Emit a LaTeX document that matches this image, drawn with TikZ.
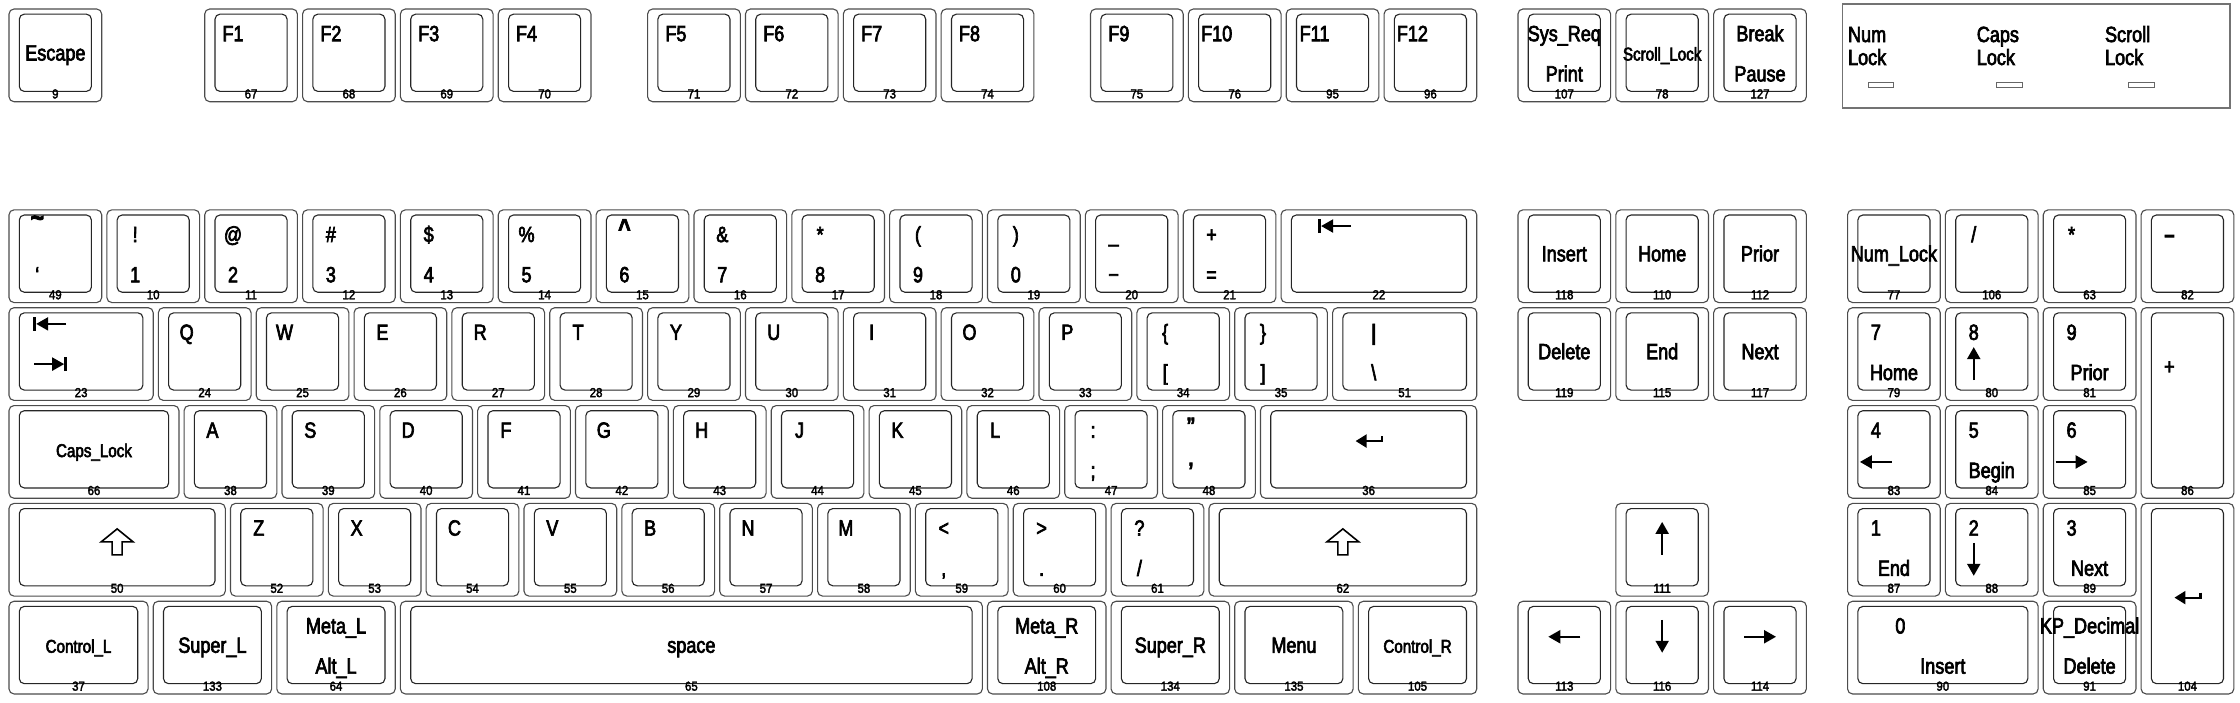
\documentclass[tikz,border=0pt]{standalone}
\usepackage{fontspec}
\setmainfont{Liberation Sans}[FakeStretch=0.82,FakeBold=3]
\newfontfamily\codefont{Liberation Sans}[FakeStretch=0.88,FakeBold=2.5]
\usetikzlibrary{calc,arrows.meta}
\def\kbu{5.15pt}
\tikzset{
  kout/.style={rectangle, draw=black!70, line width=1.1pt, rounded corners=5pt, inner sep=0pt, outer sep=0pt},
  kin/.style={rectangle, draw=black!85, line width=1.1pt, rounded corners=5pt, inner sep=0pt, outer sep=0pt},
  kcode/.style={font=\codefont\fontsize{13}{13}\selectfont, inner sep=0pt, outer sep=0pt, anchor=base},
  klab/.style={font=\fontsize{22}{24}\selectfont, inner sep=0pt, outer sep=0pt, anchor=base},
  ksml/.style={font=\fontsize{18.5}{20}\selectfont, inner sep=0pt, outer sep=0pt, anchor=base},
  arrl/.style={line width=2.2pt, -{Triangle[length=12pt,width=13pt]}},
  shiftarr/.style={draw=black, line width=1.6pt, line join=miter},
  lockbox/.style={rectangle, draw=black!55, line width=1.6pt, inner sep=0pt, outer sep=0pt},
  led/.style={rectangle, draw=black!60, line width=1pt, inner sep=0pt, outer sep=0pt},
}
% key: id, x, y, w, h, code  (units: mm, y downwards)
\newcommand\kbkey[6]{%
  \node[kout, minimum width={#4*\kbu}, minimum height={#5*\kbu}] (#1) at ({#2+#4/2},{#3+#5/2}) {};
  \node[kin, minimum width={(#4-4)*\kbu}, minimum height={(#5-3)*\kbu}] (#1i) at ({#2+#4/2},{#3+#5/2-0.5}) {};
  \node[kcode] (#1c) at ([yshift=-7pt]#1i.south) {#6};}
\newcommand\kfrac[4]{\path let \p1=(#2i.north west), \p2=(#2i.south east) in coordinate (#1) at ({(\x1)+#3*((\x2)-(\x1))},{(\y1)+#4*((\y2)-(\y1))});}
\newcommand\kbot[3]{\path let \p1=(#2i.north west), \p2=(#2i.south east) in coordinate (#1) at ({(\x1)+#3*((\x2)-(\x1))},{(\y2)+10pt});}
\newcommand\kTL[2]{\kfrac{#1-p1}{#1}{0.25}{0.35}\node[klab] (#1-tl) at (#1-p1) {#2};}
\newcommand\kBL[2]{\kbot{#1-p2}{#1}{0.25}\node[klab] (#1-bl) at (#1-p2) {#2};}
\newcommand\kTC[2]{\kfrac{#1-p3}{#1}{0.5}{0.35}\node[klab] (#1-tc) at (#1-p3) {#2};}
\newcommand\kBC[2]{\kbot{#1-p4}{#1}{0.5}\node[klab] (#1-bc) at (#1-p4) {#2};}
\newcommand\kCC[2]{\kfrac{#1-p5}{#1}{0.5}{0.6}\node[klab] (#1-cc) at (#1-p5) {#2};}
\newcommand\kCS[2]{\kfrac{#1-p5}{#1}{0.5}{0.6}\node[ksml] (#1-cc) at (#1-p5) {#2};}
% glyph arrows (argument: baseline coordinate)
\newcommand\arrU[1]{\draw[arrl] (#1) -- ([yshift=33pt]#1);}
\newcommand\arrD[1]{\draw[arrl] ([yshift=33pt]#1) -- (#1);}
\newcommand\arrL[1]{\draw[arrl] ([xshift=16pt,yshift=16pt]#1) -- ([xshift=-16pt,yshift=16pt]#1);}
\newcommand\arrR[1]{\draw[arrl] ([xshift=-16pt,yshift=16pt]#1) -- ([xshift=16pt,yshift=16pt]#1);}
\newcommand\arrTabL[1]{\draw[arrl] ([xshift=16pt,yshift=16pt]#1) -- ([xshift=-14pt,yshift=16pt]#1);
  \draw[line width=2.6pt] ([xshift=-15.5pt,yshift=9pt]#1) -- ([xshift=-15.5pt,yshift=23pt]#1);}
\newcommand\arrTabR[1]{\draw[arrl] ([xshift=-16pt,yshift=16pt]#1) -- ([xshift=14pt,yshift=16pt]#1);
  \draw[line width=2.6pt] ([xshift=15.5pt,yshift=9pt]#1) -- ([xshift=15.5pt,yshift=23pt]#1);}
\newcommand\arrRet[1]{\draw[line width=2.2pt, -{Triangle[length=11pt,width=13pt]}] ([xshift=13pt,yshift=21pt]#1) -- ([xshift=13pt,yshift=16pt]#1) -- ([xshift=-13pt,yshift=16pt]#1);}
\newcommand\arrShift[1]{\draw[shiftarr] ([yshift=26pt]#1) -- ++(16pt,-13pt) -- ++(-11pt,0pt) -- ++(0pt,-13pt) -- ++(-10pt,0pt) -- ++(0pt,13pt) -- ++(-11pt,0pt) -- cycle;}
\begin{document}
\begin{tikzpicture}[x=5.15pt, y=-5.15pt]
\useasboundingbox (-1.7476,-1.7476) rectangle (433.204,134.757);
\fill[white] (-1.7476,-1.7476) rectangle (433.204,134.757);
% ---------------- function row
\kbkey{kesc}{0}{0}{18}{18}{9}
\kbkey{kf1}{38}{0}{18}{18}{67}
\kbkey{kf2}{57}{0}{18}{18}{68}
\kbkey{kf3}{76}{0}{18}{18}{69}
\kbkey{kf4}{95}{0}{18}{18}{70}
\kbkey{kf5}{124}{0}{18}{18}{71}
\kbkey{kf6}{143}{0}{18}{18}{72}
\kbkey{kf7}{162}{0}{18}{18}{73}
\kbkey{kf8}{181}{0}{18}{18}{74}
\kbkey{kf9}{210}{0}{18}{18}{75}
\kbkey{kf10}{229}{0}{18}{18}{76}
\kbkey{kf11}{248}{0}{18}{18}{95}
\kbkey{kf12}{267}{0}{18}{18}{96}
\kbkey{kprsc}{293}{0}{18}{18}{107}
\kbkey{ksclk}{312}{0}{18}{18}{78}
\kbkey{kpaus}{331}{0}{18}{18}{127}
\kCC{kesc}{Escape}
\kTL{kf1}{F1}\kTL{kf2}{F2}\kTL{kf3}{F3}\kTL{kf4}{F4}
\kTL{kf5}{F5}\kTL{kf6}{F6}\kTL{kf7}{F7}\kTL{kf8}{F8}
\kTL{kf9}{F9}\kTL{kf10}{F10}\kTL{kf11}{F11}\kTL{kf12}{F12}
\kTC{kprsc}{Sys\_Req}\kBC{kprsc}{Print}
\kCS{ksclk}{Scroll\_Lock}
\kTC{kpaus}{Break}\kBC{kpaus}{Pause}
% ---------------- indicators
\node[lockbox, minimum width={75.3*\kbu}, minimum height={20.2*\kbu}] (kleds) at ({356+75.3/2},{-1+20.2/2}) {};
\node[klab, anchor=base west] (lnum1) at (357.1,6.41) {Num};
\node[klab, anchor=base west] (lnum2) at (357.1,10.87) {Lock};
\node[klab, anchor=base west] (lcap1) at (382.1,6.41) {Caps};
\node[klab, anchor=base west] (lcap2) at (382.1,10.87) {Lock};
\node[klab, anchor=base west] (lscr1) at (407.0,6.41) {Scroll};
\node[klab, anchor=base west] (lscr2) at (407.0,10.87) {Lock};
\node[led, minimum width={5*\kbu}, minimum height={1*\kbu}] (lednum) at (363.5,14.7) {};
\node[led, minimum width={5*\kbu}, minimum height={1*\kbu}] (ledcap) at (388.5,14.7) {};
\node[led, minimum width={5*\kbu}, minimum height={1*\kbu}] (ledscr) at (414.0,14.7) {};
% ---------------- number row
\kbkey{ktlde}{0}{39}{18}{18}{49}
\kbkey{kae01}{19}{39}{18}{18}{10}
\kbkey{kae02}{38}{39}{18}{18}{11}
\kbkey{kae03}{57}{39}{18}{18}{12}
\kbkey{kae04}{76}{39}{18}{18}{13}
\kbkey{kae05}{95}{39}{18}{18}{14}
\kbkey{kae06}{114}{39}{18}{18}{15}
\kbkey{kae07}{133}{39}{18}{18}{16}
\kbkey{kae08}{152}{39}{18}{18}{17}
\kbkey{kae09}{171}{39}{18}{18}{18}
\kbkey{kae10}{190}{39}{18}{18}{19}
\kbkey{kae11}{209}{39}{18}{18}{20}
\kbkey{kae12}{228}{39}{18}{18}{21}
\kbkey{kbksp}{247}{39}{38}{18}{22}
\kfrac{ktlde-p1}{ktlde}{0.25}{0.35}\node[klab, font=\fontsize{28}{28}\selectfont] (ktlde-tl) at ([yshift=15pt]ktlde-p1) {\textbf{\textasciitilde}};
\kBL{ktlde}{‘}
\kTL{kae01}{!}\kBL{kae01}{1}
\kTL{kae02}{@}\kBL{kae02}{2}
\kTL{kae03}{\#}\kBL{kae03}{3}
\kTL{kae04}{\$}\kBL{kae04}{4}
\kTL{kae05}{\%}\kBL{kae05}{5}
\kfrac{kae06-p1}{kae06}{0.25}{0.35}\node[klab, font=\fontsize{26}{26}\selectfont] (kae06-tl) at ([yshift=5pt]kae06-p1) {\textbf{\textasciicircum}};
\kBL{kae06}{6}
\kTL{kae07}{\&}\kBL{kae07}{7}
\kTL{kae08}{*}\kBL{kae08}{8}
\kTL{kae09}{(}\kBL{kae09}{9}
\kTL{kae10}{)}\kBL{kae10}{0}
\kTL{kae11}{\_}\kBL{kae11}{−}
\kTL{kae12}{+}\kBL{kae12}{=}
\kfrac{kbksp-p1}{kbksp}{0.25}{0.35}\arrTabL{kbksp-p1}
% ---------------- tab row
\kbkey{ktab}{0}{58}{28}{18}{23}
\kbkey{kad01}{29}{58}{18}{18}{24}
\kbkey{kad02}{48}{58}{18}{18}{25}
\kbkey{kad03}{67}{58}{18}{18}{26}
\kbkey{kad04}{86}{58}{18}{18}{27}
\kbkey{kad05}{105}{58}{18}{18}{28}
\kbkey{kad06}{124}{58}{18}{18}{29}
\kbkey{kad07}{143}{58}{18}{18}{30}
\kbkey{kad08}{162}{58}{18}{18}{31}
\kbkey{kad09}{181}{58}{18}{18}{32}
\kbkey{kad10}{200}{58}{18}{18}{33}
\kbkey{kad11}{219}{58}{18}{18}{34}
\kbkey{kad12}{238}{58}{18}{18}{35}
\kbkey{kbksl}{257}{58}{28}{18}{51}
\kfrac{ktab-p1}{ktab}{0.25}{0.35}\arrTabL{ktab-p1}
\kbot{ktab-p2}{ktab}{0.25}\arrTabR{ktab-p2}
\kTL{kad01}{Q}\kTL{kad02}{W}\kTL{kad03}{E}\kTL{kad04}{R}\kTL{kad05}{T}
\kTL{kad06}{Y}\kTL{kad07}{U}\kTL{kad08}{I}\kTL{kad09}{O}\kTL{kad10}{P}
\kTL{kad11}{\{}\kBL{kad11}{[}
\kTL{kad12}{\}}\kBL{kad12}{]}
\kTL{kbksl}{\textbf{|}}\kBL{kbksl}{\textbackslash}
% ---------------- caps row
\kbkey{kcaps}{0}{77}{33}{18}{66}
\kbkey{kac01}{34}{77}{18}{18}{38}
\kbkey{kac02}{53}{77}{18}{18}{39}
\kbkey{kac03}{72}{77}{18}{18}{40}
\kbkey{kac04}{91}{77}{18}{18}{41}
\kbkey{kac05}{110}{77}{18}{18}{42}
\kbkey{kac06}{129}{77}{18}{18}{43}
\kbkey{kac07}{148}{77}{18}{18}{44}
\kbkey{kac08}{167}{77}{18}{18}{45}
\kbkey{kac09}{186}{77}{18}{18}{46}
\kbkey{kac10}{205}{77}{18}{18}{47}
\kbkey{kac11}{224}{77}{18}{18}{48}
\kbkey{krtrn}{243}{77}{42}{18}{36}
\kCS{kcaps}{Caps\_Lock}
\kTL{kac01}{A}\kTL{kac02}{S}\kTL{kac03}{D}\kTL{kac04}{F}\kTL{kac05}{G}
\kTL{kac06}{H}\kTL{kac07}{J}\kTL{kac08}{K}\kTL{kac09}{L}
\kTL{kac10}{:}\kBL{kac10}{;}
\kfrac{kac11-p1}{kac11}{0.25}{0.35}\node[klab] (kac11-tl) at ([yshift=5pt]kac11-p1) {\textbf{"}};
\kBL{kac11}{\textbf{’}}
\kfrac{krtrn-p5}{krtrn}{0.5}{0.6}\arrRet{krtrn-p5}
% ---------------- shift row
\kbkey{klfsh}{0}{96}{42}{18}{50}
\kbkey{kab01}{43}{96}{18}{18}{52}
\kbkey{kab02}{62}{96}{18}{18}{53}
\kbkey{kab03}{81}{96}{18}{18}{54}
\kbkey{kab04}{100}{96}{18}{18}{55}
\kbkey{kab05}{119}{96}{18}{18}{56}
\kbkey{kab06}{138}{96}{18}{18}{57}
\kbkey{kab07}{157}{96}{18}{18}{58}
\kbkey{kab08}{176}{96}{18}{18}{59}
\kbkey{kab09}{195}{96}{18}{18}{60}
\kbkey{kab10}{214}{96}{18}{18}{61}
\kbkey{krtsh}{233}{96}{52}{18}{62}
\kfrac{klfsh-p5}{klfsh}{0.5}{0.6}\arrShift{klfsh-p5}
\kfrac{krtsh-p5}{krtsh}{0.5}{0.6}\arrShift{krtsh-p5}
\kTL{kab01}{Z}\kTL{kab02}{X}\kTL{kab03}{C}\kTL{kab04}{V}
\kTL{kab05}{B}\kTL{kab06}{N}\kTL{kab07}{M}
\kTL{kab08}{<}\kBL{kab08}{,}
\kTL{kab09}{>}\kBL{kab09}{.}
\kTL{kab10}{?}\kBL{kab10}{/}
% ---------------- bottom row
\kbkey{klctl}{0}{115}{27}{18}{37}
\kbkey{klwin}{28}{115}{23}{18}{133}
\kbkey{klalt}{52}{115}{23}{18}{64}
\kbkey{kspce}{76}{115}{113}{18}{65}
\kbkey{kralt}{190}{115}{23}{18}{108}
\kbkey{krwin}{214}{115}{23}{18}{134}
\kbkey{kmenu}{238}{115}{23}{18}{135}
\kbkey{krctl}{262}{115}{23}{18}{105}
\kCS{klctl}{Control\_L}
\kCC{klwin}{Super\_L}
\kTC{klalt}{Meta\_L}\kBC{klalt}{Alt\_L}
\kCC{kspce}{space}
\kTC{kralt}{Meta\_R}\kBC{kralt}{Alt\_R}
\kCC{krwin}{Super\_R}
\kCC{kmenu}{Menu}
\kCS{krctl}{Control\_R}
% ---------------- editing block
\kbkey{kins}{293}{39}{18}{18}{118}
\kbkey{khome}{312}{39}{18}{18}{110}
\kbkey{kpgup}{331}{39}{18}{18}{112}
\kbkey{kdele}{293}{58}{18}{18}{119}
\kbkey{kend}{312}{58}{18}{18}{115}
\kbkey{kpgdn}{331}{58}{18}{18}{117}
\kbkey{kup}{312}{96}{18}{18}{111}
\kbkey{kleft}{293}{115}{18}{18}{113}
\kbkey{kdown}{312}{115}{18}{18}{116}
\kbkey{krght}{331}{115}{18}{18}{114}
\kCC{kins}{Insert}\kCC{khome}{Home}\kCC{kpgup}{Prior}
\kCC{kdele}{Delete}\kCC{kend}{End}\kCC{kpgdn}{Next}
\kfrac{kup-p5}{kup}{0.5}{0.6}\arrU{kup-p5}
\kfrac{kleft-p5}{kleft}{0.5}{0.6}\arrL{kleft-p5}
\kfrac{kdown-p5}{kdown}{0.5}{0.6}\arrD{kdown-p5}
\kfrac{krght-p5}{krght}{0.5}{0.6}\arrR{krght-p5}
% ---------------- keypad
\kbkey{knmlk}{357}{39}{18}{18}{77}
\kbkey{kkpdv}{376}{39}{18}{18}{106}
\kbkey{kkpmu}{395}{39}{18}{18}{63}
\kbkey{kkpsu}{414}{39}{18}{18}{82}
\kbkey{kkp7}{357}{58}{18}{18}{79}
\kbkey{kkp8}{376}{58}{18}{18}{80}
\kbkey{kkp9}{395}{58}{18}{18}{81}
\kbkey{kkpad}{414}{58}{18}{37}{86}
\kbkey{kkp4}{357}{77}{18}{18}{83}
\kbkey{kkp5}{376}{77}{18}{18}{84}
\kbkey{kkp6}{395}{77}{18}{18}{85}
\kbkey{kkp1}{357}{96}{18}{18}{87}
\kbkey{kkp2}{376}{96}{18}{18}{88}
\kbkey{kkp3}{395}{96}{18}{18}{89}
\kbkey{kkpen}{414}{96}{18}{37}{104}
\kbkey{kkp0}{357}{115}{37}{18}{90}
\kbkey{kkpdl}{395}{115}{18}{18}{91}
\kCC{knmlk}{Num\_Lock}
\kTL{kkpdv}{/}\kTL{kkpmu}{*}\kTL{kkpsu}{\textbf{–}}
\kTL{kkp7}{7}\kBC{kkp7}{Home}
\kTL{kkp8}{8}\kbot{kkp8-p2}{kkp8}{0.25}\arrU{kkp8-p2}
\kTL{kkp9}{9}\kBC{kkp9}{Prior}
\kTL{kkpad}{+}
\kTL{kkp4}{4}\kbot{kkp4-p2}{kkp4}{0.25}\arrL{kkp4-p2}
\kTL{kkp5}{5}\kBC{kkp5}{Begin}
\kTL{kkp6}{6}\kbot{kkp6-p2}{kkp6}{0.25}\arrR{kkp6-p2}
\kTL{kkp1}{1}\kBC{kkp1}{End}
\kTL{kkp2}{2}\kbot{kkp2-p2}{kkp2}{0.25}\arrD{kkp2-p2}
\kTL{kkp3}{3}\kBC{kkp3}{Next}
\kfrac{kkpen-p5}{kkpen}{0.5}{0.6}\arrRet{kkpen-p5}
\kTL{kkp0}{0}\kBC{kkp0}{Insert}
\kTC{kkpdl}{KP\_Decimal}\kBC{kkpdl}{Delete}
\end{tikzpicture}
\end{document}
